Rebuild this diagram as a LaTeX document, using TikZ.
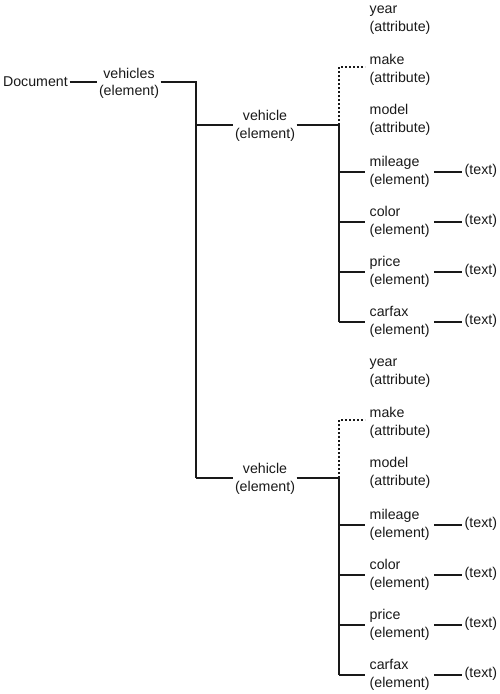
\documentclass[tikz,border=0pt]{standalone}
\usepackage{fontspec}
\setmainfont{Liberation Sans}
\begin{document}
\begin{tikzpicture}[x=1pt,y=-1pt,
  lbl/.style={font=\fontsize{14.2}{17.5}\selectfont, inner sep=1.5pt, align=left, text=black!90},
  ctr/.style={lbl, align=center},
  child/.style={lbl, inner xsep=4.5pt, anchor=west},
  leaf/.style={lbl, inner xsep=2.5pt, anchor=west},
  conn/.style={line width=1.8pt, draw=black!90},
  dots/.style={line width=1.8pt, draw=black!90, dash pattern=on 1.6pt off 2.4pt}]
\useasboundingbox (0,0) rectangle (500,694);
\node[lbl, anchor=east] (doc) at (69.5,82) {Document};
\node[ctr] (vs) at (129,83.5) {vehicles\\(element)};
\coordinate (trunk) at (196,82);
\coordinate (b1) at (196,125);
\coordinate (b2) at (196,478);
\draw[conn] (doc.east) -- (vs.west |- doc.east);
\draw[conn] (vs.east |- trunk) -- (trunk) -- (b2);
\foreach \g/\dy in {1/0, 2/353} {
  \node[ctr] (v\g) at (265,{126+\dy}) {vehicle\\(element)};
  \coordinate (s\g) at (339,{125+\dy});
  \coordinate (d\g) at (339,{67+\dy});
  \coordinate (e\g) at (339,{322+\dy});
  \draw[conn] (b\g) -- (v\g.west |- s\g);
  \draw[conn] (v\g.east |- s\g) -- (s\g) -- (e\g);
  \node[child] (yr\g) at (365,{20+\dy}) {year\\(attribute)};
  \node[child] (mk\g) at (365,{70+\dy}) {make\\(attribute)};
  \node[child] (md\g) at (365,{120+\dy}) {model\\(attribute)};
  \draw[dots] (s\g) -- (d\g) -- (mk\g.west |- d\g);
  \foreach \n/\t/\y in {mi/mileage/172, co/color/222, pr/price/272, ca/carfax/322} {
    \node[child] (\n\g) at (365,{\y+\dy}) {\t\\(element)};
    \node[leaf] (\n t\g) at (462,{\y+\dy-1}) {(text)};
    \draw[conn] (s\g |- \n\g.west) -- (\n\g.west);
    \draw[conn] (\n\g.east) -- (\n t\g.west |- \n\g.east);
  }
}
\end{tikzpicture}
\end{document}
